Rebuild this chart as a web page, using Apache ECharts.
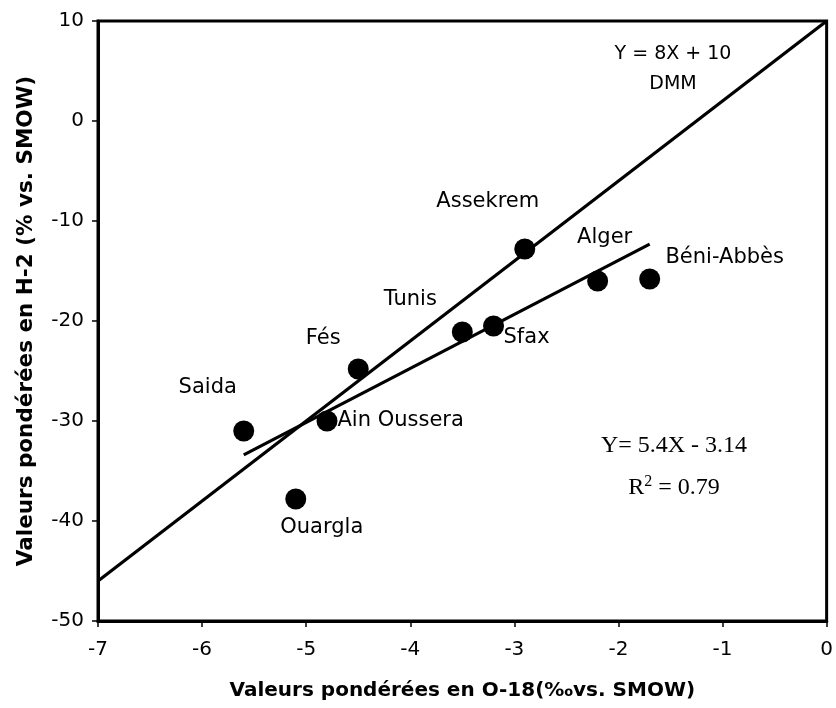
<!DOCTYPE html>
<html>
<head>
<meta charset="utf-8">
<script src="https://cdn.jsdelivr.net/npm/echarts@6/dist/echarts.min.js"></script>
<style>
  html, body { margin: 0; padding: 0; background: #fff; }
  #chart { width: 836px; height: 708px; }
</style>
</head>
<body>
<div id="chart"></div>
<script>
// Weighted isotope values per station (δ18O, δ2H)
const stations = ['Saida', 'Ouargla', 'Ain Oussera', 'Fés', 'Tunis', 'Sfax', 'Assekrem', 'Alger', 'Béni-Abbès'];
const o18 = [-5.6, -5.1, -4.8, -4.5, -3.5, -3.2, -2.9, -2.2, -1.7];
const h2 = [-31.0, -37.8, -30.0, -24.8, -21.1, -20.5, -12.8, -16.0, -15.8];

// Meteoric water line (DMM): Y = 8X + 10
const dmmSlope = 8;
const dmmIntercept = 10;
const dmmRange = [-7, 0];

// Local regression: Y = 5.4X - 3.14, R² = 0.79
const fitSlope = 5.4;
const fitIntercept = -3.14;
const fitRange = [-5.6, -1.7];

const xTicks = [-7, -6, -5, -4, -3, -2, -1, 0];
const yTicks = [-50, -40, -30, -20, -10, 0, 10];

// Label placement around each dot (pixel offsets from the dot centre)
const labelOffsets = {
  'Saida': [-36, -43],
  'Ouargla': [26, 29],
  'Ain Oussera': null,
  'Fés': [-35, -30],
  'Tunis': [-52, -32],
  'Sfax': [33, 12],
  'Assekrem': [-37, -47],
  'Alger': [7, -43],
  'Béni-Abbès': [75, -21]
};

const SANS = 'DejaVu Sans';
const SERIF = 'Liberation Serif';

const pointData = stations.map((name, i) => {
  const off = labelOffsets[name];
  const label = off
    ? { position: 'inside', offset: off }
    : { position: 'right', distance: 0 };
  return { name: name, value: [o18[i], h2[i]], label: label };
});

const lineOf = (m, b, r) => r.map(x => [x, m * x + b]);

const chart = echarts.init(document.getElementById('chart'), null, { renderer: 'canvas' });

chart.setOption({
  animation: false,
  backgroundColor: '#fff',
  grid: {
    left: 98, right: 5, top: 21, bottom: 87,
    show: true, borderColor: '#000', borderWidth: 3, backgroundColor: 'transparent'
  },
  xAxis: {
    type: 'value',
    min: xTicks[0], max: xTicks[xTicks.length - 1], interval: 1,
    name: 'Valeurs pondérées en O-18(‰vs. SMOW)',
    nameLocation: 'middle', nameGap: 60,
    nameTextStyle: { fontFamily: SANS, fontWeight: 'bold', fontSize: 20, color: '#000' },
    axisLine: { show: true, onZero: false, lineStyle: { color: '#000', width: 3 } },
    axisTick: { show: true, inside: false, length: 6, lineStyle: { color: '#000', width: 1.5 } },
    axisLabel: { fontFamily: SANS, fontSize: 20, color: '#000', margin: 19 },
    splitLine: { show: false }
  },
  yAxis: {
    type: 'value',
    min: yTicks[0], max: yTicks[yTicks.length - 1], interval: 10,
    name: 'Valeurs pondérées en H-2 (% vs. SMOW)',
    nameLocation: 'middle', nameGap: 61,
    nameTextStyle: { fontFamily: SANS, fontWeight: 'bold', fontSize: 21.5, color: '#000' },
    axisLine: { show: true, onZero: false, lineStyle: { color: '#000', width: 3 } },
    axisTick: { show: true, inside: false, length: 6, lineStyle: { color: '#000', width: 1.5 } },
    axisLabel: { fontFamily: SANS, fontSize: 20, color: '#000', margin: 14 },
    splitLine: { show: false }
  },
  series: [
    {
      name: 'DMM',
      type: 'line',
      data: lineOf(dmmSlope, dmmIntercept, dmmRange),
      symbol: 'none',
      lineStyle: { color: '#000', width: 3.2 },
      z: 2
    },
    {
      name: 'Régression',
      type: 'line',
      data: lineOf(fitSlope, fitIntercept, fitRange),
      symbol: 'none',
      lineStyle: { color: '#000', width: 3.2 },
      z: 2
    },
    {
      name: 'Stations',
      type: 'scatter',
      data: pointData,
      symbol: 'circle',
      symbolSize: 21,
      itemStyle: { color: '#000', opacity: 1 },
      label: {
        show: true,
        formatter: p => p.name,
        fontFamily: SANS,
        fontSize: 21,
        color: '#000',
        opacity: 1
      },
      z: 3
    }
  ],
  // Equation annotations placed in the plot area
  graphic: [
    {
      type: 'text', x: 673, y: 54, z: 10,
      style: { text: 'Y = 8X + 10', fontFamily: SANS, fontSize: 19, fill: '#000', align: 'center', verticalAlign: 'middle' }
    },
    {
      type: 'text', x: 673, y: 84, z: 10,
      style: { text: 'DMM', fontFamily: SANS, fontSize: 19, fill: '#000', align: 'center', verticalAlign: 'middle' }
    },
    {
      type: 'text', x: 674, y: 446, z: 10,
      style: { text: 'Y= 5.4X - 3.14', fontFamily: SERIF, fontSize: 24, fill: '#000', align: 'center', verticalAlign: 'middle' }
    },
    {
      type: 'text', x: 674, y: 488, z: 10,
      style: {
        text: '{r|R}{s|2}{r| = 0.79}', align: 'center', verticalAlign: 'middle',
        rich: {
          r: { fontFamily: SERIF, fontSize: 24, fill: '#000', color: '#000' },
          s: { fontFamily: SERIF, fontSize: 16, color: '#000', verticalAlign: 'top', padding: [0, 0, 12, 0] }
        }
      }
    }
  ]
});
</script>
</body>
</html>
